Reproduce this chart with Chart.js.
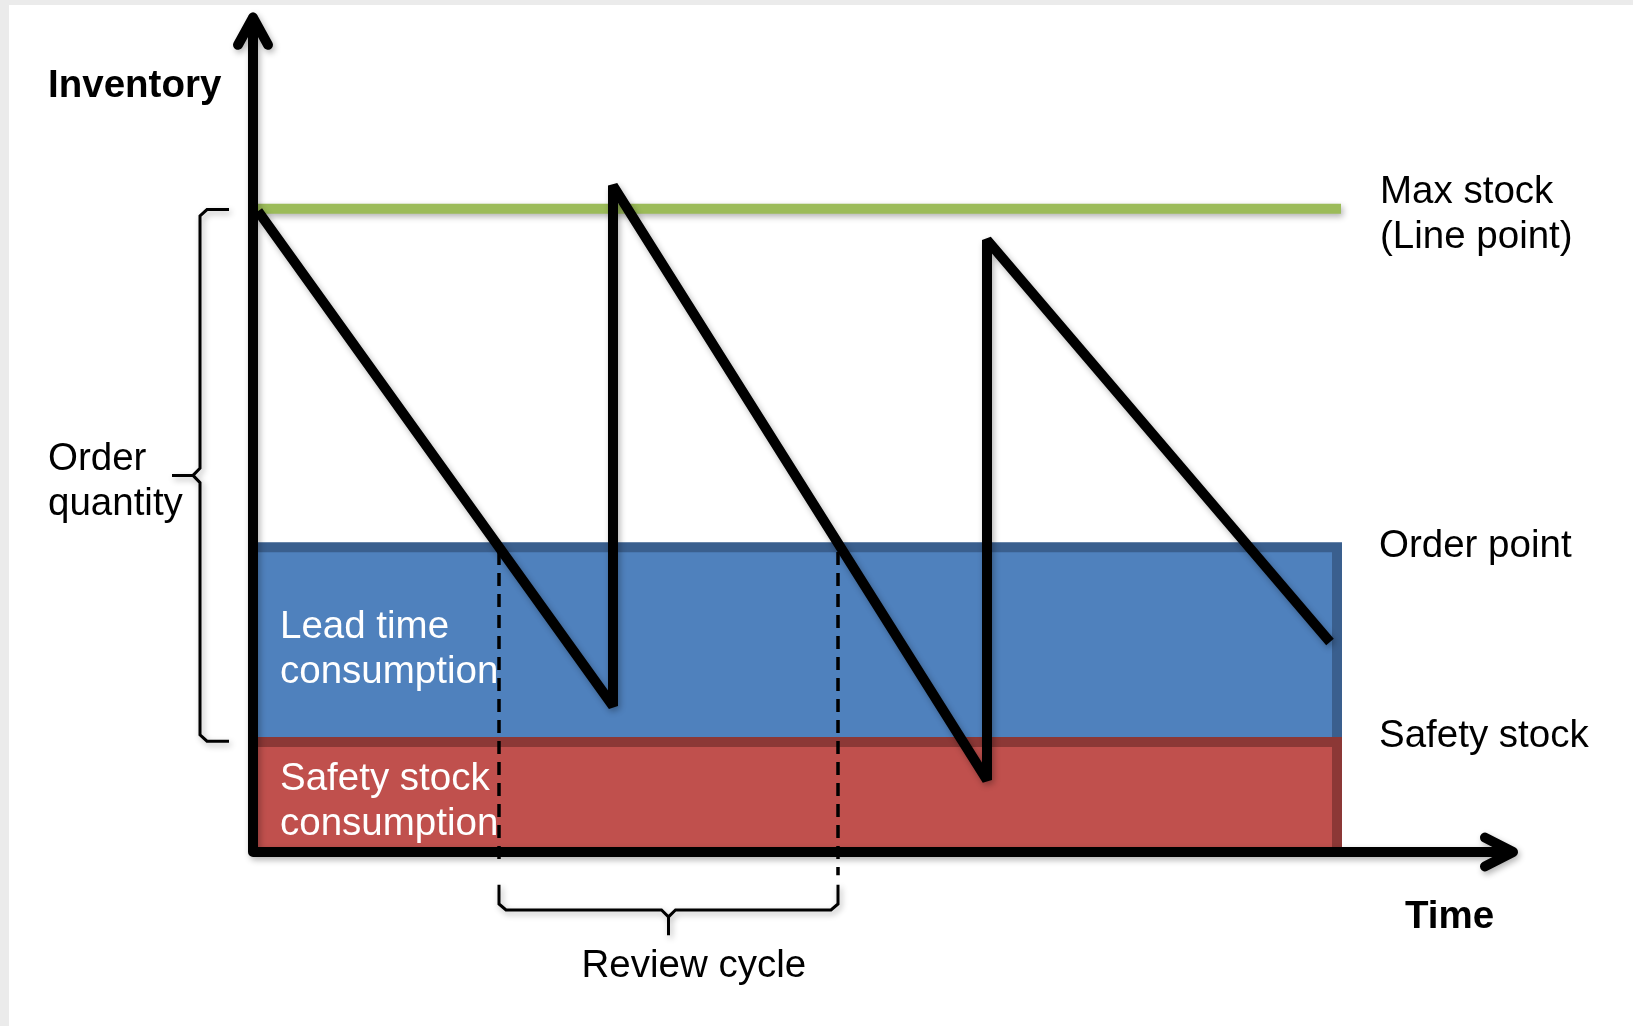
<!DOCTYPE html>
<html>
<head>
<meta charset="utf-8">
<script src="https://cdn.jsdelivr.net/npm/chart.js@4.4.1/dist/chart.umd.min.js"></script>
<style>
  html, body { margin: 0; padding: 0; background: #ebebeb; overflow: hidden; }
  #wrap { position: absolute; left: 9px; top: 5px; width: 1624px; height: 1021px; background: #fff; }
</style>
</head>
<body>
<div id="wrap"><canvas id="stockChart"></canvas></div>
<script>
// Stock levels (inventory units)
const levelNames = ['Max stock', 'Order point', 'Safety stock'];
const levelValues = [80.4, 38.1, 13.75];
const horizonEnd = 10.84; // end of the planning horizon (time units)

// Inventory sawtooth: time / stock
const cycleTimes = [0.05, 3.6, 3.6, 7.34, 7.34, 10.77];
const cycleStock = [80.1, 18.25, 83.3, 9.0, 76.5, 26.25];

// Review points on the time axis
const reviewTimes = [2.46, 5.85];

const axisTitles = ['Inventory', 'Time'];
const bandLabels = [['Lead time', 'consumption'], ['Safety stock', 'consumption']];
const orderQtyLabel = ['Order', 'quantity'];
const reviewLabel = 'Review cycle';

const maxStock = levelValues[0];
const orderPoint = levelValues[1];
const safetyStock = levelValues[2];
const yTip = 104.3, xTip = 12.6;

const FONT = '"Liberation Sans", Arial, sans-serif';

const sawtooth = cycleTimes.map((t, i) => ({x: t, y: cycleStock[i]}));

const redBand = [
    {x: 0, y: 0}, {x: 0, y: safetyStock}, {x: horizonEnd, y: safetyStock}, {x: horizonEnd, y: 0}
];
const blueBand = [
    {x: 0, y: safetyStock}, {x: 0, y: orderPoint}, {x: horizonEnd, y: orderPoint}, {x: horizonEnd, y: safetyStock}
];

const axesPath = [
    {x: -0.15, y: yTip - 3.4}, {x: 0, y: yTip}, {x: 0.15, y: yTip - 3.4}, {x: 0, y: null},
    {x: 0, y: yTip}, {x: 0, y: 0}, {x: xTip, y: 0}, {x: xTip, y: null},
    {x: xTip - 0.28, y: 1.8}, {x: xTip, y: 0}, {x: xTip - 0.28, y: -1.8}
];

// review cycle bracket under the time axis
const rL = reviewTimes[0], rR = reviewTimes[1], rM = (rL + rR) / 2;
const reviewBracket = [
    {x: rL, y: -4.1}, {x: rL, y: -6.5}, {x: rL + 0.07, y: -7.25}, {x: rM - 0.07, y: -7.25},
    {x: rM, y: -8.1}, {x: rM, y: -10.4}, {x: rM, y: null},
    {x: rM, y: -8.1}, {x: rM + 0.07, y: -7.25}, {x: rR - 0.07, y: -7.25}, {x: rR, y: -6.5}, {x: rR, y: -4.1}
];

// order quantity bracket left of the y axis
const qMid = (maxStock + safetyStock) / 2;
const qtyBracket = [
    {x: -0.24, y: maxStock - 0.1}, {x: -0.46, y: maxStock - 0.1}, {x: -0.53, y: maxStock - 0.9},
    {x: -0.53, y: qMid + 0.9}, {x: -0.6, y: qMid}, {x: -0.81, y: qMid}, {x: -0.81, y: null},
    {x: -0.6, y: qMid}, {x: -0.53, y: qMid - 0.9}, {x: -0.53, y: safetyStock + 0.9},
    {x: -0.46, y: safetyStock + 0.1}, {x: -0.24, y: safetyStock + 0.1}
];

const dashed = reviewTimes.map((t, i) => ({
    data: [{x: t, y: orderPoint - 0.6}, {x: t, y: i === 0 ? -1.6 : -2.9}],
    borderColor: '#000', borderWidth: 3.5, borderDash: [13, 8], order: 2
}));

const shadowPlugin = {
    id: 'shadows',
    beforeDatasetDraw(chart, args) {
        const ds = chart.data.datasets[args.index];
        const ctx = chart.ctx;
        ctx.save();
        if (ds.shadow) {
            ctx.shadowColor = 'rgba(0,0,0,0.3)';
            ctx.shadowBlur = 6;
            ctx.shadowOffsetX = 2;
            ctx.shadowOffsetY = 3;
        }
    },
    afterDatasetDraw(chart) {
        chart.ctx.restore();
    }
};

const textPlugin = {
    id: 'labels',
    afterDatasetsDraw(chart) {
        const ctx = chart.ctx;
        const xs = chart.scales.x, ys = chart.scales.y;
        const x0 = xs.getPixelForValue(0), y0 = ys.getPixelForValue(0);
        ctx.save();
        ctx.textBaseline = 'alphabetic';
        ctx.textAlign = 'left';

        ctx.fillStyle = '#000';
        ctx.font = 'bold 38.5px ' + FONT;
        ctx.fillText(axisTitles[0], x0 - 205, 92);
        ctx.fillText(axisTitles[1], xs.getPixelForValue(xTip) - 108, y0 + 76);

        ctx.font = '38.5px ' + FONT;
        const qy = ys.getPixelForValue(qMid);
        ctx.fillText(orderQtyLabel[0], x0 - 205, qy - 5);
        ctx.fillText(orderQtyLabel[1], x0 - 205, qy + 40);

        ctx.fillText(reviewLabel, xs.getPixelForValue(rM) - 87, y0 + 125);

        const rx = xs.getPixelForValue(horizonEnd) + 43;
        const my = ys.getPixelForValue(maxStock);
        ctx.fillText(levelNames[0], rx, my - 6);
        ctx.fillText('(Line point)', rx, my + 39);
        ctx.fillText(levelNames[1], rx - 1, ys.getPixelForValue(orderPoint) + 10);
        ctx.fillText(levelNames[2], rx - 1, ys.getPixelForValue(safetyStock) + 5);

        ctx.fillStyle = '#fff';
        const oy = ys.getPixelForValue(orderPoint);
        ctx.fillText(bandLabels[0][0], x0 + 27, oy + 91);
        ctx.fillText(bandLabels[0][1], x0 + 27, oy + 136);
        const sy = ys.getPixelForValue(safetyStock);
        ctx.fillText(bandLabels[1][0], x0 + 27, sy + 48);
        ctx.fillText(bandLabels[1][1], x0 + 27, sy + 93);
        ctx.restore();
    }
};

const ctx = document.getElementById('stockChart').getContext('2d');
const stockChart = new Chart(ctx, {
    type: 'scatter',
    data: {
        datasets: [{
            label: 'Axes',
            data: axesPath,
            borderColor: '#000',
            borderWidth: 10,
            borderJoinStyle: 'round',
            borderCapStyle: 'round',
            shadow: true,
            order: 0
        }, {
            label: 'Inventory',
            data: sawtooth,
            borderColor: '#000',
            borderWidth: 10,
            borderJoinStyle: 'bevel',
            borderCapStyle: 'butt',
            shadow: true,
            order: 1
        },
        ...dashed,
        {
            label: levelNames[0],
            data: [{x: 0, y: maxStock}, {x: horizonEnd + 0.04, y: maxStock}],
            borderColor: '#9bbb59',
            borderWidth: 10,
            borderCapStyle: 'butt',
            shadow: true,
            order: 3
        }, {
            label: levelNames[2],
            data: redBand,
            borderColor: '#8c3836',
            backgroundColor: '#c0504d',
            borderWidth: 10,
            borderJoinStyle: 'miter',
            fill: 'shape',
            order: 4
        }, {
            label: levelNames[1],
            data: blueBand,
            borderColor: '#3a5f8e',
            backgroundColor: '#4f81bd',
            borderWidth: 10,
            borderJoinStyle: 'miter',
            fill: 'shape',
            order: 5
        }, {
            label: 'Review cycle',
            data: reviewBracket,
            borderColor: '#000',
            borderWidth: 3,
            shadow: true,
            order: 6
        }, {
            label: 'Order quantity',
            data: qtyBracket,
            borderColor: '#000',
            borderWidth: 3,
            shadow: true,
            order: 6
        }]
    },
    options: {
        responsive: true,
        maintainAspectRatio: false,
        animation: false,
        showLine: true,
        spanGaps: false,
        layout: { padding: 0 },
        elements: {
            point: { radius: 0, hoverRadius: 0 },
            line: { tension: 0, fill: false }
        },
        scales: {
            x: { type: 'linear', min: -2.44, max: 13.80, display: false },
            y: { type: 'linear', min: -21.75, max: 105.875, display: false }
        },
        plugins: {
            legend: { display: false },
            tooltip: { enabled: false }
        }
    },
    plugins: [shadowPlugin, textPlugin]
});
</script>
</body>
</html>
